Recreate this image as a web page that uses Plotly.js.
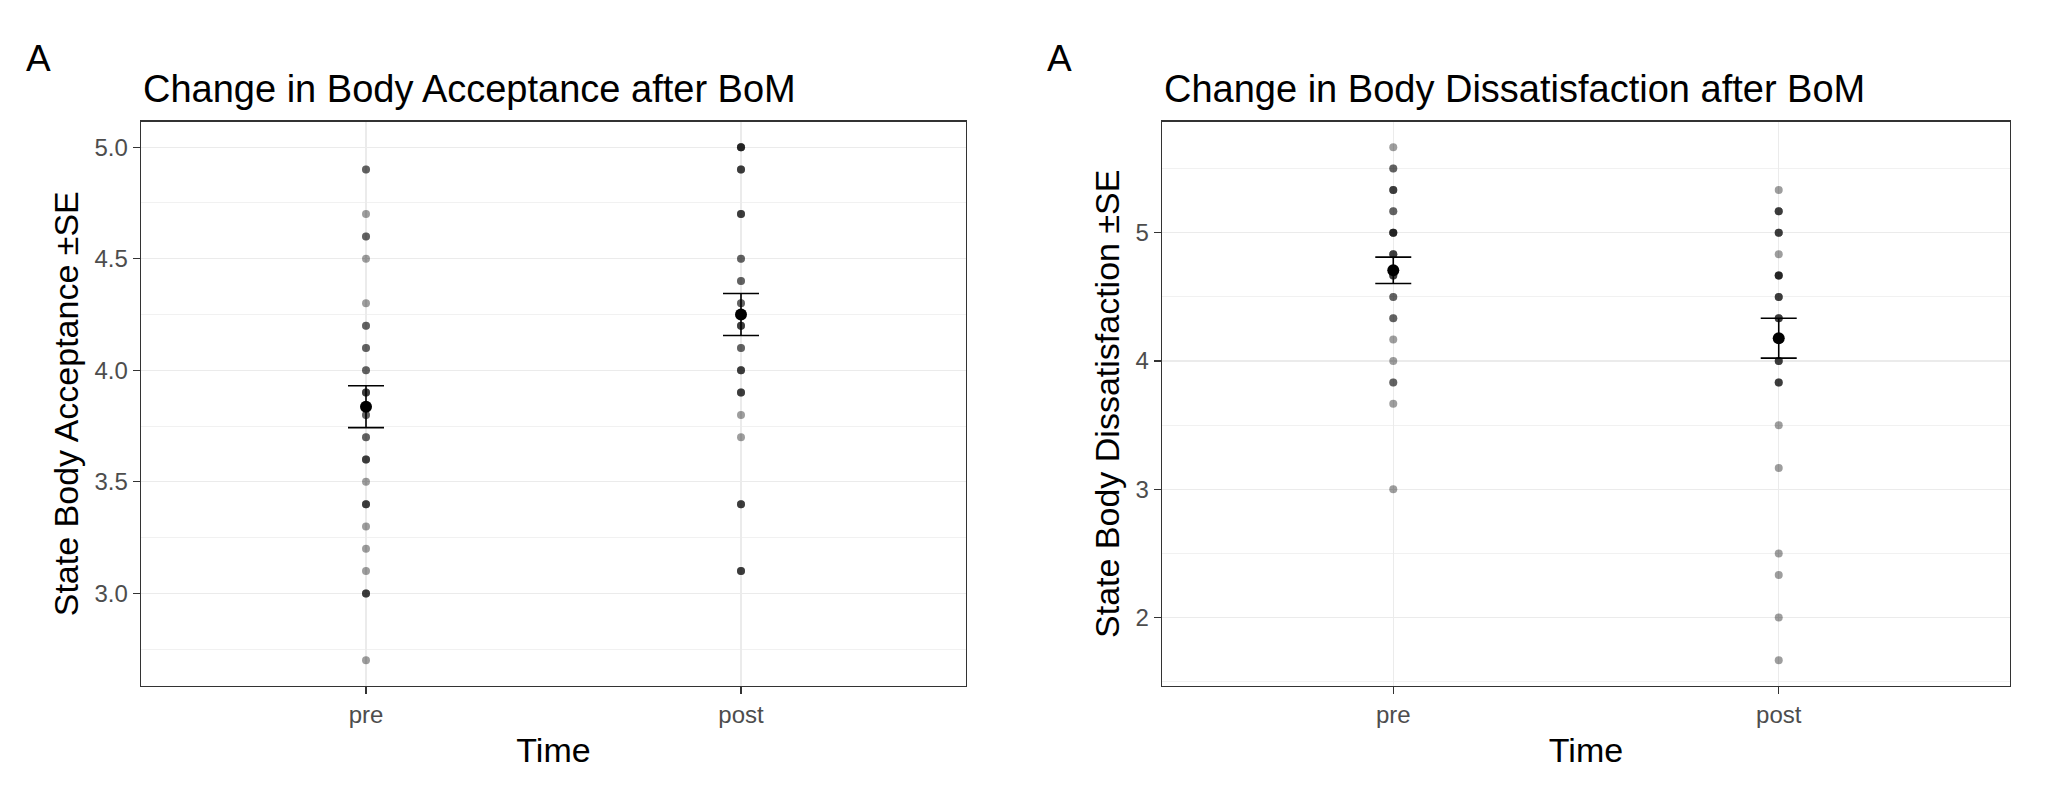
<!DOCTYPE html>
<html><head><meta charset="utf-8">
<script src="https://cdn.plot.ly/plotly-3.0.1.min.js"></script>
<style>html,body{margin:0;padding:0;background:#fff;} #chart{width:2048px;height:797px;}</style>
</head><body><div id="chart"></div>
<script>
// ---------- data ----------
const timeCats = ['pre', 'post'];

// State Body Acceptance, individual scores (repeats = overlapping points)
const accPre = [4.9,4.9, 4.7, 4.6,4.6, 4.5, 4.3, 4.2,4.2, 4.1,4.1, 4.0,4.0, 3.9,3.9,3.9,
                3.8,3.8, 3.7,3.7, 3.6,3.6,3.6, 3.5, 3.4,3.4,3.4, 3.3, 3.2, 3.1, 3.0,3.0,3.0, 2.7];
const accPost = [5.0,5.0,5.0,5.0, 4.9,4.9,4.9, 4.7,4.7,4.7, 4.5,4.5, 4.4,4.4, 4.3,4.3, 4.2,4.2,4.2,
                 4.1,4.1, 4.0,4.0,4.0, 3.9,3.9,3.9, 3.8, 3.7, 3.4,3.4,3.4, 3.1,3.1,3.1];
const accMean = [3.837, 4.250];
const accSE   = [0.094, 0.094];

// State Body Dissatisfaction, individual scores
const disPre = [5.667, 5.5,5.5, 5.333,5.333,5.333, 5.167,5.167, 5.0,5.0,5.0,5.0, 4.833,4.833,4.833,
                4.667,4.667,4.667, 4.5,4.5, 4.333,4.333, 4.167, 4.0, 3.833,3.833, 3.667, 3.0];
const disPost = [5.333, 5.167,5.167,5.167, 5.0,5.0,5.0, 4.833, 4.667,4.667,4.667,4.667, 4.5,4.5,4.5,
                 4.333,4.333,4.333, 4.167,4.167,4.167, 4.0,4.0,4.0, 3.833,3.833,3.833,
                 3.5, 3.167, 2.5, 2.333, 2.0, 1.667];
const disMean = [4.707, 4.178];
const disSE   = [0.103, 0.155];

const titles  = ['Change in Body Acceptance after BoM', 'Change in Body Dissatisfaction after BoM'];
const yTitles = ['State Body Acceptance ±SE', 'State Body Dissatisfaction ±SE'];
const xTitle  = 'Time';
const tagText = 'A';

// ---------- drawing ----------
const W = 2048, H = 797;
const FONT = 'Liberation Sans, Arial, Helvetica, sans-serif';

function pointTrace(pre, post, xa, ya) {
  return {
    type: 'scatter', mode: 'markers',
    x: pre.map(() => timeCats[0]).concat(post.map(() => timeCats[1])),
    y: pre.concat(post),
    xaxis: xa, yaxis: ya,
    marker: {color: '#000000', opacity: 0.38, size: 8, line: {width: 0}},
    showlegend: false, hoverinfo: 'x+y'
  };
}
function meanTrace(means, ses, xa, ya) {
  return {
    type: 'scatter', mode: 'markers',
    x: timeCats, y: means, xaxis: xa, yaxis: ya,
    marker: {color: '#000000', size: 12},
    error_y: {type: 'data', array: ses, visible: true, color: '#000000', thickness: 1.6, width: 18},
    showlegend: false, hoverinfo: 'x+y'
  };
}

const data = [
  pointTrace(accPre, accPost, 'x', 'y'),
  meanTrace(accMean, accSE, 'x', 'y'),
  pointTrace(disPre, disPost, 'x2', 'y2'),
  meanTrace(disMean, disSE, 'x2', 'y2')
];

const panelL = [141, 1162], panelR = [966, 2010];
const panelT = 121.5, panelB = 686;

function baseAxis() {
  return {
    showline: true, mirror: true, linecolor: '#333333', linewidth: 1.4,
    ticks: 'outside', ticklen: 7, tickwidth: 1.3, tickcolor: '#333333',
    showgrid: true, gridcolor: '#ebebeb', gridwidth: 1.3, zeroline: false,
    tickfont: {family: FONT, size: 24, color: '#4d4d4d'},
    fixedrange: true, automargin: false
  };
}
function xAxis(i) {
  return Object.assign(baseAxis(), {
    domain: [panelL[i] / W, panelR[i] / W],
    type: 'category', categoryorder: 'array', categoryarray: timeCats,
    range: [-0.6, 1.6],
    anchor: i === 0 ? 'y' : 'y2',
    title: {text: xTitle, font: {family: FONT, size: 34, color: '#000'}, standoff: 11}
  });
}
function yAxis(i, range, dtick, fmt) {
  return Object.assign(baseAxis(), {
    domain: [1 - panelB / H, 1 - panelT / H],
    range: range, tick0: 0, dtick: dtick, tickformat: fmt,
    anchor: i === 0 ? 'x' : 'x2',
    minor: {tick0: 0, dtick: dtick / 2, showgrid: true, gridcolor: '#ebebeb', gridwidth: 0.7, ticks: ''},
    title: {text: yTitles[i], font: {family: FONT, size: 34, color: '#000'}, standoff: 5}
  });
}

const annotations = [];
for (let i = 0; i < 2; i++) {
  annotations.push({
    text: titles[i], xref: 'paper', yref: 'paper',
    x: panelL[i] / W, xanchor: 'left', y: 1 - 89 / H, yanchor: 'middle',
    showarrow: false, font: {family: FONT, size: 38, color: '#000'}
  });
  annotations.push({
    text: tagText, xref: 'paper', yref: 'paper',
    x: (panelL[i] - 117) / W, xanchor: 'left', y: 1 - 59 / H, yanchor: 'middle',
    showarrow: false, font: {family: FONT, size: 37, color: '#000'}
  });
}

const layout = {
  width: W, height: H,
  margin: {l: 0, r: 0, t: 0, b: 0},
  paper_bgcolor: '#ffffff', plot_bgcolor: '#ffffff',
  font: {family: FONT},
  showlegend: false,
  xaxis: xAxis(0), xaxis2: xAxis(1),
  yaxis: yAxis(0, [2.585, 5.115], 0.5, '.1f'),
  yaxis2: yAxis(1, [1.467, 5.867], 1, 'd'),
  annotations: annotations
};

Plotly.newPlot('chart', data, layout, {displayModeBar: false, staticPlot: true});
</script>
</body></html>
